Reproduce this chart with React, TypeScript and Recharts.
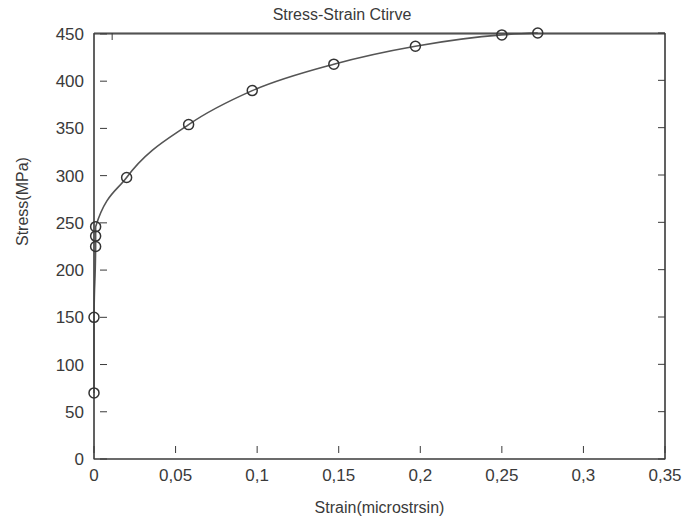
import React from 'react'
import { LineChart, Line, XAxis, YAxis, ReferenceArea } from 'recharts'

// values
const strain = [0, 0, 0.001, 0.001, 0.001, 0.02, 0.058, 0.097, 0.147, 0.197, 0.25, 0.272]
const stress = [70, 150, 225, 236, 246, 298, 354, 390, 418, 437, 449, 451]
const xTicks = [0, 0.05, 0.1, 0.15, 0.2, 0.25, 0.3, 0.35]
const yTicks = [0, 50, 100, 150, 200, 250, 300, 350, 400, 450]

const ink = '#3a3a3a'
const font = '"Liberation Sans Narrow", "Liberation Sans", Arial, sans-serif'

const fmt = (v: number) => String(v).replace('.', ',')

// ticks point inward, like the original plot (recharts still shifts the tick anchor ~6px out)
function XTick({ x, y, payload }: any) {
  return (
    <g>
      <line x1={x} x2={x} y1={y - 6} y2={y - 13} stroke={ink} />
      <text x={x} y={y + 22} textAnchor="middle" fill={ink} fontSize={17} fontFamily={font}>
        {fmt(payload.value)}
      </text>
    </g>
  )
}

function TopTick({ x, y }: any) {
  return <line x1={x} x2={x} y1={y} y2={y + 7} stroke={ink} />
}

function YTick({ x, y, payload }: any) {
  return (
    <g>
      <line x1={x + 6} x2={x + 13} y1={y} y2={y} stroke={ink} />
      <text x={x - 10} y={y + 6} textAnchor="end" fill={ink} fontSize={17} fontFamily={font}>
        {payload.value}
      </text>
    </g>
  )
}

function RightTick({ x, y }: any) {
  return <line x1={x} x2={x - 7} y1={y} y2={y} stroke={ink} />
}

export default function App() {
  const data = strain.map((s, i) => ({ strain: s, stress: stress[i] }))

  return (
    <div style={{ position: 'absolute', left: 0, top: 0, width: 689, height: 521, background: '#fff' }}>
      <LineChart width={689} height={521} data={data} margin={{ top: 33, right: 24, bottom: 0, left: 0 }}>
        <text x={342} y={20} textAnchor="middle" fill={ink} fontSize={16} fontFamily={font}>
          Stress-Strain Ctirve
        </text>
        <XAxis
          dataKey="strain"
          type="number"
          domain={[0, 0.35]}
          ticks={xTicks}
          tickSize={0}
          tickMargin={0}
          height={62}
          stroke={ink}
          tick={<XTick />}
          label={{ value: 'Strain(microstrsin)', position: 'insideBottom', offset: 8, fill: ink, fontSize: 16, fontFamily: font }}
        />
        <XAxis
          xAxisId="top"
          orientation="top"
          mirror
          type="number"
          domain={[0, 0.35]}
          ticks={xTicks}
          allowDataOverflow
          tickSize={0}
          tickMargin={0}
          stroke={ink}
          tick={<TopTick />}
        />
        <YAxis
          dataKey="stress"
          type="number"
          domain={[0, 450]}
          ticks={yTicks}
          tickSize={0}
          tickMargin={0}
          width={94}
          stroke={ink}
          tick={<YTick />}
          label={{ value: 'Stress(MPa)', angle: -90, position: 'insideLeft', offset: 22, fill: ink, fontSize: 16, fontFamily: font }}
        />
        <YAxis
          yAxisId="right"
          orientation="right"
          mirror
          type="number"
          domain={[0, 450]}
          ticks={yTicks}
          allowDataOverflow
          tickSize={0}
          tickMargin={0}
          stroke={ink}
          tick={<RightTick />}
        />
        <ReferenceArea x1={0} x2={0.35} y1={0} y2={450} fill="none" stroke={ink} strokeWidth={1.2} ifOverflow="extendDomain" />
        <Line
          dataKey="stress"
          type="monotone"
          stroke="#555"
          strokeWidth={1.6}
          dot={{ r: 5, stroke: '#333', strokeWidth: 1.5, fill: 'none' }}
          isAnimationActive={false}
        />
      </LineChart>
    </div>
  )
}
